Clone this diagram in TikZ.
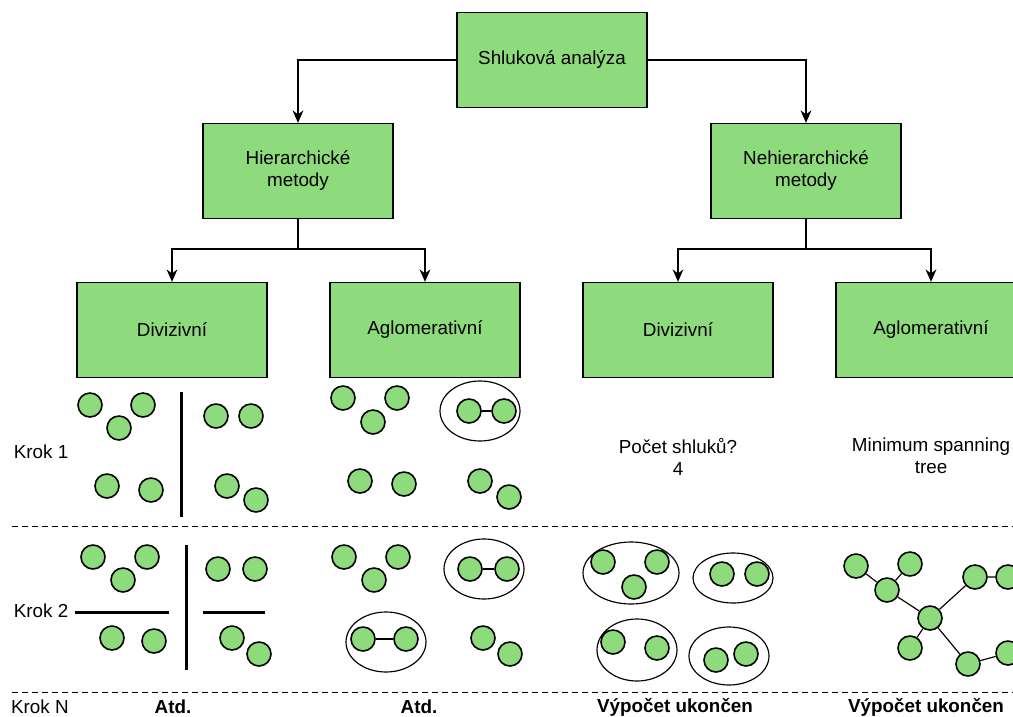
\documentclass[tikz,border=0pt]{standalone}
\usepackage{fontspec}
\setmainfont{Liberation Sans}
\usetikzlibrary{arrows.meta}
\definecolor{zelena}{RGB}{141,219,124}

\begin{document}
\begin{tikzpicture}[x=0.6pt, y=-0.6pt,
		every node/.style={font=\fontsize{11.3}{13.2}\selectfont},
		box/.style={draw, line width=0.75pt, fill=zelena, minimum width=114pt, minimum height=57pt, align=center},
		dot/.style={circle, draw, line width=0.95pt, fill=zelena, minimum size=14.4pt, inner sep=0pt},
		arrow/.style={line width=0.8pt, -{Stealth[length=7.5pt, width=6.5pt]}},
		hrana/.style={line width=0.7pt},
		obal/.style={line width=0.7pt},
		deleni/.style={line width=1.8pt},
		dole/.style={inner sep=0.5pt},
		krok/.style={dashed, line width=0.6pt, dash pattern=on 3.6pt off 2.4pt}]
		\useasboundingbox(0, 0) rectangle (1013, 717);
		\clip(0, 0) rectangle (1013, 717);
		% strom metod
		\node[box] (root) at(552, 60){Shluková analýza};
		\node[box] (hier) at(298, 171){Hierarchické\\metody};
		\node[box] (nehier) at(806, 171){Nehierarchické\\metody};
		\node[box] (hdiv) at(172, 330){Divizivní};
		\node[box] (hagl) at(425, 330){Aglomerativní};
		\node[box] (ndiv) at(678, 330){Divizivní};
		\node[box] (nagl) at(931, 330){Aglomerativní};
		\coordinate (hsplit) at(298, 249);
		\coordinate (nsplit) at(806, 249);
		\draw[arrow](root.west) -| (hier.north);
		\draw[arrow](root.east) -| (nehier.north);
		\draw[arrow](hier.south) -- (hsplit) -| (hdiv.north);
		\draw[arrow](hsplit) -| (hagl.north);
		\draw[arrow](nehier.south) -- (nsplit) -| (ndiv.north);
		\draw[arrow](nsplit) -| (nagl.north);
		% kroky
		\node[anchor=west] (k1) at(8, 452){Krok 1};
		\node[anchor=west] (k2) at(8, 611){Krok 2};
		\node[anchor=west, dole] (kn) at(10, 707){Krok N};
		\draw[krok](12, 526)--(1013, 526);
		\draw[krok](12, 692)--(1013, 692);
		\node[dole] (atd1) at(173, 707){\bfseries Atd.};
		\node[dole] (atd2) at(419, 707){\bfseries Atd.};
		\node[dole] (konec1) at(675, 707){\bfseries Výpočet ukončen};
		\node[dole] (konec2) at(926, 707){\bfseries Výpočet ukončen};
		\node[align=center] (pocet) at(678, 457){Počet shluků?\\4};
		\node[align=center] (mst) at(931, 456){Minimum spanning\\tree};
		% krok 1
		\foreach \n/\x/\y in {d1/90/405, d2/143/405, d3/119/428, d4/107/486, d5/151/490, d6/216/416, d7/251/416, d8/227/486, d9/256/500,
				a1/343/398, a2/397/398, a3/373/422, a4/469/411, a5/504/411, a6/360/481, a7/404/484, a8/480/481, a9/509/497}
			\node[dot] (\n) at(\x, \y){};
		\draw[deleni](181, 392)--(181, 517);
		\draw[hrana](a4)--(a5);
		\draw[obal](480, 411) ellipse (40 and 30);
		% krok 2
		\foreach \n/\x/\y in {e1/93/557, e2/147/557, e3/123/580, e4/112/638, e5/154/641, e6/218/569, e7/255/569, e8/232/638, e9/259/654,
				b1/344/557, b2/398/557, b3/374/580, b4/470/569, b5/507/569, b6/363/639, b7/406/639, b8/483/638, b9/510/654,
				c1/603/562, c2/657/562, c3/634/587, c4/722/574, c5/757/574, c6/613/642, c7/657/648, c8/716/660, c9/746/654,
				t1/856/566, t2/910/564, t3/887/590, t4/930/618, t5/975/577, t6/1008/577, t7/910/648, t8/968/664, t9/1008/653}
			\node[dot] (\n) at(\x, \y){};
		\draw[deleni](186, 545)--(186, 670);
		\draw[deleni](75, 612)--(169, 612);
		\draw[deleni](203, 612)--(265, 612);
		\draw[hrana](b4)--(b5);
		\draw[hrana](b6)--(b7);
		\draw[obal](484, 569) ellipse (40 and 30);
		\draw[obal](386, 642) ellipse (40 and 30);
		\draw[obal](631, 573) ellipse (48 and 31);
		\draw[obal](733, 578) ellipse (40 and 25);
		\draw[obal](637, 650) ellipse (40 and 31);
		\draw[obal](729, 656) ellipse (40 and 29);
		\draw[hrana](t1)--(t3) (t2)--(t3) (t3)--(t4) (t4)--(t5) (t5)--(t6) (t4)--(t7) (t4)--(t8) (t8)--(t9);
	\end{tikzpicture}
\end{document}
